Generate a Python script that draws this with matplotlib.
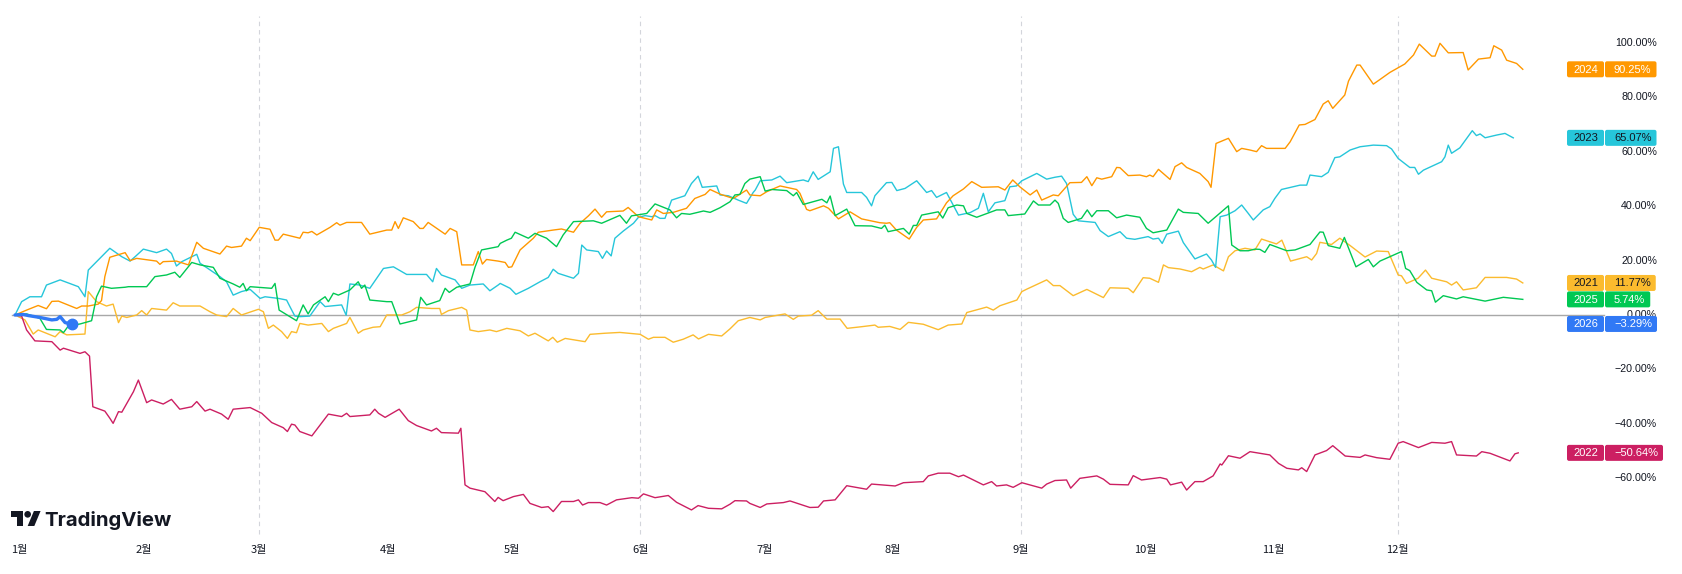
import matplotlib
matplotlib.use("Agg")
import matplotlib.pyplot as plt
from matplotlib.patches import FancyBboxPatch, Polygon, Circle
from matplotlib.transforms import IdentityTransform, blended_transform_factory

# ---------------- data (day of year, % change since Jan 1) ----------------
days_2021 = [0,2.4,4.4,5.6,9.7,10.9,12.5,16.9,17.7,19.7,22.1,23.7,25.0,25.8,27.0,29.4,30.6,31.8,33.0,36.6,38.2,39.8,44.7,47.1,48.7,51.1,52.7,54.7,58.8,60.0,61.2,62.4,64.4,65.8,66.8,68.0,68.8,70.8,74.1,75.7,76.9,80.1,80.9,82.9,84.1,86.5,88.2,89.8,93.4,95.4,97.0,100.6,102.6,103.0,104.7,107.9,109.1,109.9,111.9,114.7,116.3,118.8,122.0,124.0,125.6,128.8,129.9,131.0,132.9,137.7,138.9,142.5,146.1,151.0,153.0,154.2,157.0,159.0,161.4,163.8,165.1,167.5,170.7,172.7,174.7,177.5,180.0,181.2,186.0,188.0,189.2,192.4,194.0,196.1,199.3,201.0,204.5,207.7,208.5,211.3,213.8,215.8,219.4,223.0,225.4,228.7,229.9,234.7,236.3,237.9,242.0,243.2,244.4,249.2,250.8,252.4,255.6,258.9,262.9,264.5,268.9,270.1,272.5,274.1,276.2,277.4,278.6,281.4,284.2,286.2,287.0,289.4,291.9,293.1,294.7,297.1,299.5,301.1,304.7,306.0,308.1,312.0,313.2,314.4,315.2,318.0,320.0,322.5,326.1,328.9,331.7,334.1,334.9,336.1,338.9,340.7,342.2,345.8,347.0,348.2,349.8,353.0,355.1,360.3,362.7,364.2]
pct_2021 = [0,-1.8,-7.0,-5.5,-8.0,-6.1,-7.3,-7.0,8.6,4.9,3.3,4.0,-2.8,-0.4,-0.9,0.0,1.6,0.0,2.4,1.8,4.5,3.3,3.3,1.2,0.0,-0.6,2.4,0.0,2.1,1.2,-4.9,-3.7,-6.1,-8.6,-6.1,-6.5,-3.1,-3.7,-3.1,-6.1,-4.9,-3.1,-0.9,-6.7,-5.5,-4.5,-4.3,0.0,0.0,1.2,2.8,2.4,2.4,0.2,1.6,2.8,1.8,-5.5,-6.1,-5.5,-6.1,-4.9,-5.8,-7.7,-6.7,-9.5,-8.2,-10.0,-8.6,-9.8,-7.1,-6.7,-6.4,-7.1,-8.9,-8.2,-8.2,-10.0,-8.9,-7.3,-8.8,-7.1,-7.7,-5.1,-2.1,-0.9,-1.8,-0.9,0.4,-1.6,-0.4,-0.1,1.6,-1.5,-1.5,-4.9,-4.3,-3.7,-4.5,-4.2,-5.3,-2.7,-3.4,-5.4,-3.7,-3.3,0.9,2.9,1.8,3.4,5.5,8.6,9.5,12.9,10.8,10.8,7.1,9.4,6.4,10.0,9.8,8.2,13.7,13.5,12.0,18.4,17.4,16.9,15.9,17.5,16.9,18.4,16.2,21.4,23.6,24.5,23.9,27.9,26.1,27.5,19.8,21.4,20.2,22.6,26.7,25.9,28.2,25.5,21.3,23.5,23.3,14.7,14.4,11.6,13.5,16.5,13.5,12.2,11.0,12.2,9.2,10.0,13.8,13.8,13.2,11.77]

days_2022 = [0,1.6,2.8,4.8,8.9,10.9,11.7,15.7,16.9,18.0,18.8,21.7,22.9,23.7,25.0,25.8,28.6,29.8,31.8,33.0,35.8,37.8,39.8,42.7,43.9,45.9,47.1,49.9,51.5,52.7,56.8,59.6,62.0,64.8,65.8,66.8,67.6,68.8,71.7,75.7,78.9,80.1,80.9,85.7,86.9,87.8,89.4,92.8,95.0,97.0,100.6,101.8,103.0,107.1,107.7,108.7,109.9,113.5,115.9,116.7,117.9,120.4,122.8,124.4,127.2,128.8,130.0,132.0,134.9,136.1,137.1,138.5,141.3,142.9,145.3,149.0,150.6,151.8,154.6,157.8,159.8,163.4,165.0,167.5,170.7,172.7,173.9,176.7,177.5,180.0,181.6,185.6,187.2,192.0,194.0,195.3,198.1,200.9,205.7,206.9,212.6,214.6,219.4,220.6,223.0,225.8,227.9,229.1,233.9,235.9,237.1,239.5,241.1,243.2,248.0,249.2,251.2,254.0,255.0,257.2,261.3,262.9,264.5,268.9,270.1,272.1,276.6,278.2,279.1,281.8,283.0,285.0,287.0,289.4,291.1,291.5,293.1,295.9,298.3,303.1,305.2,307.2,310.0,310.8,312.0,314.0,316.8,318.3,321.3,324.9,326.1,328.9,332.1,334.1,335.3,339.0,342.2,345.4,347.0,348.2,353.0,354.3,356.3,361.1,362.3,363.1]
pct_2022 = [0,-0.4,-5.5,-9.5,-9.8,-12.9,-12.2,-14.1,-13.5,-15.1,-33.7,-35.3,-37.9,-39.8,-35.5,-35.7,-28.2,-23.9,-32.2,-31.2,-32.7,-31.0,-34.6,-33.7,-31.8,-35.3,-34.6,-36.4,-38.3,-34.6,-34.0,-36.1,-39.5,-41.4,-42.8,-40.1,-40.4,-42.8,-44.4,-36.4,-37.3,-36.1,-37.3,-36.7,-34.6,-36.1,-37.6,-34.6,-38.8,-40.6,-42.6,-41.6,-43.2,-43.4,-41.6,-62.4,-63.6,-64.9,-68.5,-67.0,-68.2,-66.7,-65.9,-69.2,-70.7,-70.4,-72.2,-68.5,-68.5,-67.9,-69.8,-68.9,-68.9,-69.8,-67.9,-67.1,-67.3,-65.7,-67.1,-66.3,-68.8,-71.6,-70.0,-71.0,-71.2,-69.5,-68.2,-68.3,-69.2,-70.7,-69.4,-68.9,-68.3,-70.7,-70.6,-68.3,-67.9,-62.7,-64.0,-62.1,-62.8,-61.6,-61.2,-59.1,-58.1,-58.1,-59.4,-58.8,-62.4,-61.2,-62.8,-62.4,-63.3,-61.6,-63.6,-62.1,-60.8,-60.6,-63.6,-60.0,-59.1,-60.3,-62.2,-62.4,-59.0,-60.6,-59.7,-60.3,-62.4,-61.4,-64.3,-61.2,-61.2,-59.1,-54.7,-55.1,-51.7,-52.6,-50.2,-51.4,-54.5,-56.3,-56.9,-56.1,-57.5,-51.4,-49.8,-48.0,-51.8,-52.3,-51.4,-52.4,-53.0,-47.1,-46.5,-48.7,-46.8,-47.1,-46.5,-51.4,-51.8,-50.2,-50.8,-53.6,-51.0,-50.64]

days_2023 = [0,1.6,3.6,6.4,7.6,10.9,15.3,16.9,17.7,20.5,22.9,25.8,27.8,29.0,31.0,34.2,36.6,37.8,39.0,40.3,42.7,43.9,44.7,46.3,49.5,51.1,52.7,54.7,56.8,59.2,60.4,63.6,65.6,66.4,67.6,68.8,71.2,73.7,74.9,78.9,80.0,80.9,83.3,84.5,85.7,89.0,91.4,94.6,99.4,100.9,101.8,103.0,106.3,107.9,109.9,113.1,114.7,116.7,117.2,119.6,121.0,124.0,126.8,128.8,130.0,131.2,134.9,136.1,136.9,138.1,140.9,141.9,142.9,144.0,144.9,146.9,149.4,150.6,152.2,153.8,154.6,155.8,157.0,158.6,161.8,163.4,165.0,166.0,169.5,170.3,172.3,174.7,176.7,178.3,178.8,180.0,182.8,184.8,186.4,190.4,191.6,192.8,194.0,196.9,197.7,198.9,200.1,200.9,204.5,205.7,206.9,207.7,210.5,211.8,213.0,215.0,217.8,220.2,221.4,222.6,225.0,227.9,230.7,232.7,233.9,235.1,236.7,237.9,239.1,240.3,241.9,243.2,246.8,249.2,251.2,252.8,254.0,255.6,256.8,260.9,262.1,264.1,266.9,268.5,270.5,273.7,274.9,276.2,277.1,278.2,281.0,282.2,285.0,287.8,289.0,290.0,291.1,292.7,294.7,296.3,297.9,299.1,301.5,303.1,304.3,305.9,310.4,312.0,312.8,315.6,317.2,318.8,320.0,322.5,324.9,328.1,331.3,332.5,334.1,336.9,338.1,339.0,340.2,344.6,345.4,346.2,347.0,349.0,352.0,353.0,353.9,355.1,357.9,359.9,361.9]
pct_2023 = [0,4.9,6.7,6.7,11.0,12.9,10.4,6.7,16.5,20.8,24.5,21.4,19.8,21.4,24.2,22.9,24.2,22.6,18.0,19.6,21.4,22.3,19.0,17.4,14.1,12.2,7.3,8.6,9.4,6.1,6.7,6.1,5.5,3.1,-0.4,-0.6,-0.4,4.9,3.1,3.7,-0.1,11.4,11.0,10.4,9.8,17.1,17.7,14.9,14.9,12.2,17.1,14.7,12.9,9.8,11.0,11.4,8.9,11.0,11.6,9.8,7.6,9.8,12.2,13.8,16.8,15.3,13.5,15.3,25.7,23.9,23.3,20.8,23.5,21.7,28.2,30.8,33.7,35.9,36.5,36.1,36.5,35.5,35.5,42.2,43.8,48.3,51.0,46.9,47.4,44.1,43.8,42.2,41.0,45.0,45.9,49.3,49.6,51.0,48.6,49.6,49.0,52.6,49.8,52.6,61.2,61.8,48.1,45.0,45.0,43.2,40.1,43.8,48.6,48.7,45.7,46.5,49.3,45.0,45.7,43.2,45.0,36.7,37.6,39.2,44.7,37.9,41.2,41.6,42.0,47.1,47.4,49.3,52.0,49.9,50.6,51.0,48.3,37.0,34.6,34.0,31.0,28.8,30.6,28.2,27.8,28.8,27.9,28.2,26.3,29.7,30.8,26.6,20.6,22.4,20.2,17.5,36.1,36.7,38.3,40.4,37.3,34.9,38.6,39.8,42.8,46.1,47.7,47.7,51.4,50.8,52.4,57.8,58.1,60.6,61.8,62.4,62.2,61.0,57.5,54.2,54.2,51.7,53.2,56.3,58.1,62.4,59.4,61.4,67.7,65.9,66.5,65.1,66.1,66.7,65.07]

days_2024 = [0,2.8,5.6,7.6,8.9,10.5,14.9,16.1,17.7,20.1,20.9,21.7,22.9,26.6,27.8,29.4,34.2,35.0,35.8,39.0,41.9,43.9,45.5,49.5,51.1,52.3,54.7,55.9,56.8,59.0,61.6,62.8,63.6,64.8,68.8,69.6,70.8,71.7,72.9,76.1,77.7,78.5,80.1,83.7,85.7,89.8,91.0,91.8,92.6,93.8,96.2,97.8,98.6,99.8,103.9,105.1,106.7,107.9,110.7,111.9,112.9,113.9,116.7,118.4,119.2,120.0,122.0,125.2,126.4,130.0,132.0,134.9,136.5,138.5,140.1,141.7,142.9,146.9,148.1,150.6,153.8,155.0,156.6,159.0,162.2,164.2,166.7,167.9,170.3,173.5,176.7,177.5,180.0,181.6,184.8,188.8,189.6,191.2,192.0,195.3,196.5,198.9,201.7,204.5,208.9,210.5,211.3,212.9,216.0,217.8,219.4,222.6,225.0,226.6,229.1,231.1,233.5,237.5,239.1,241.0,242.7,245.2,246.8,248.0,250.8,252.0,254.8,257.6,258.9,260.1,261.3,262.5,264.9,266.1,266.9,268.9,271.7,273.3,274.1,274.9,276.2,279.0,280.2,281.8,283.0,286.2,288.2,288.9,290.1,293.1,295.1,296.3,298.3,299.9,301.1,302.3,306.8,308.0,310.2,311.6,314.0,316.0,317.2,318.3,321.2,322.1,324.1,324.9,328.1,329.7,332.1,335.7,337.8,339.2,342.2,343.0,344.2,346.2,349.8,351.0,353.5,356.3,357.2,359.1,360.3,362.7,364.2]
pct_2024 = [0,1.8,3.5,2.3,5.0,5.1,2.4,3.3,3.3,4.0,5.3,14.1,21.2,22.9,20.0,20.8,19.8,18.6,19.6,19.8,18.4,26.7,24.5,22.4,25.3,24.8,25.3,28.2,27.3,32.2,31.5,27.5,27.5,29.7,28.2,30.4,30.2,30.7,29.4,32.2,33.9,33.0,34.0,34.0,29.7,31.2,31.2,34.3,31.8,35.7,34.3,31.8,31.8,34.0,29.7,31.8,30.6,18.4,18.4,23.3,18.7,20.4,19.8,19.3,17.5,17.7,23.9,28.2,30.4,31.2,31.6,30.4,33.7,36.4,38.9,35.9,37.9,38.2,39.5,36.1,34.9,38.6,37.3,37.7,39.2,42.8,44.3,46.1,44.4,42.8,45.9,44.1,43.8,45.3,47.4,46.1,44.7,38.8,38.3,40.1,39.2,35.3,37.9,35.3,33.9,33.7,33.9,31.2,27.9,32.2,34.9,35.3,41.2,43.8,46.3,49.0,46.9,47.1,45.9,49.6,47.1,44.1,45.9,42.2,44.1,43.8,48.6,48.7,50.8,47.5,50.4,49.9,50.8,54.2,54.1,51.2,51.4,50.8,51.4,50.8,53.5,49.8,54.5,55.9,54.2,52.0,49.0,46.9,63.0,64.9,60.0,61.2,60.6,60.0,62.2,61.2,61.2,63.6,69.8,70.0,71.8,77.5,78.7,75.9,80.8,85.9,91.8,91.8,84.8,86.5,89.1,92.2,95.5,99.5,95.1,95.1,99.8,96.3,96.4,90.0,94.0,94.5,98.9,97.3,93.6,92.4,90.25]

days_2025 = [0,2.8,6.0,7.6,10.9,11.7,12.9,15.7,18.5,19.7,20.9,23.3,26.6,27.4,31.8,33.8,36.6,38.6,39.8,42.7,44.7,47.9,49.5,52.7,54.3,55.1,55.9,56.8,62.0,62.8,63.8,68.0,69.6,70.8,72.1,74.9,75.7,76.9,78.1,80.9,82.9,83.7,84.5,85.7,89.8,91.0,93.0,97.0,98.0,99.4,102.6,103.9,104.9,106.7,109.9,111.1,112.7,116.7,117.2,118.8,119.9,120.8,124.0,125.6,128.4,130.8,132.4,134.9,139.7,141.7,146.1,147.7,148.9,152.6,154.6,158.2,159.8,161.0,163.0,166.3,167.9,170.3,172.7,173.9,175.1,176.3,177.5,180.0,181.2,182.8,186.4,188.0,188.8,190.4,194.9,196.1,196.9,198.1,200.9,202.9,206.9,209.3,210.1,210.9,214.6,216.0,217.0,217.8,219.0,223.0,224.1,225.4,227.5,229.1,229.9,232.3,237.1,239.1,239.9,243.9,246.0,247.2,250.0,251.2,252.0,253.2,254.4,257.6,259.0,260.1,261.3,264.1,266.1,268.5,271.7,273.3,274.9,278.2,281.0,282.2,285.8,288.2,293.1,293.9,295.9,297.9,299.5,300.7,301.9,303.1,307.2,309.2,312.8,315.2,316.0,317.2,320.0,321.1,323.9,326.9,328.1,329.7,334.9,335.9,336.9,338.6,341.0,342.2,343.1,345.0,348.2,349.8,351.8,355.1,359.5,364.2]
pct_2025 = [0,0.4,-1.2,-5.3,-5.5,-6.5,-4.0,-3.3,-2.1,6.7,10.6,9.8,10.2,10.4,10.4,14.1,14.7,15.7,13.8,19.3,18.4,17.5,13.5,11.4,10.2,11.6,8.9,10.4,9.8,11.6,1.8,-2.1,3.7,0.4,3.7,6.7,4.9,8.0,7.3,9.2,12.2,9.8,11.0,5.5,4.9,4.9,-3.3,-1.8,6.5,3.7,5.3,9.8,8.3,10.2,11.4,17.5,23.9,25.1,26.3,27.5,28.2,30.4,28.2,30.0,28.2,25.1,29.4,34.3,34.6,33.7,36.6,33.7,36.4,37.3,40.8,38.6,35.7,37.3,37.0,38.2,37.7,39.4,41.6,44.1,44.3,48.3,49.9,50.8,45.5,46.1,45.7,43.8,45.0,40.6,42.5,41.2,43.7,36.5,38.9,32.8,32.7,31.8,33.0,30.6,31.8,29.7,32.9,32.9,36.7,37.9,35.6,39.4,40.4,40.1,37.3,35.9,38.6,38.6,36.5,37.1,41.9,40.4,40.4,42.2,41.0,35.5,34.0,35.5,38.6,36.1,38.3,38.3,35.7,36.7,35.9,31.8,30.2,31.2,38.9,37.7,37.3,33.7,40.1,25.7,23.6,23.6,24.2,24.1,23.0,25.9,23.6,23.9,25.9,30.5,30.4,25.5,24.5,28.5,17.7,20.4,17.7,19.8,23.3,17.1,16.3,12.0,9.2,8.9,4.7,7.1,5.9,6.7,6.1,5.1,6.5,5.74]

days_2026 = [0,2.0,3.2,6.0,8.9,10.1,10.9,12.1,13.7]
pct_2026 = [0,0.2,-0.2,-0.9,-1.8,-1.6,-0.6,-2.8,-3.29]

years = ["2021", "2022", "2023", "2024", "2025", "2026"]
series_days = [days_2021, days_2022, days_2023, days_2024, days_2025, days_2026]
series_pct = [pct_2021, pct_2022, pct_2023, pct_2024, pct_2025, pct_2026]
colors = ["#FBBB2E", "#CC1F62", "#26C6DA", "#FF9800", "#00C853", "#3179F5"]
label_text_colors = ["#131722", "#FFFFFF", "#131722", "#FFFFFF", "#FFFFFF", "#FFFFFF"]

month_labels = ["1월", "2월", "3월", "4월", "5월", "6월", "7월", "8월", "9월", "10월", "11월", "12월"]
month_start_days = [0, 31, 59, 90, 120, 151, 181, 212, 243, 273, 304, 334]
grid_months = [3, 6, 9, 12]
y_ticks = [100, 80, 60, 40, 20, 0, -20, -40, -60]

# ---------------- layout ----------------
W, H, DPI = 1682, 574, 100
X0, XS = 15.0, 4.14      # pixel of day 0, pixels per day
Y0, YS = 315.0, 2.7225   # pixel of 0 %, pixels per percent

fig = plt.figure(figsize=(W / DPI, H / DPI), dpi=DPI)
fig.patch.set_facecolor("white")
ax = fig.add_axes([0, 0, 1, 1])
ax.set_axis_off()
ax.set_xlim(-X0 / XS, (W - X0) / XS)
ax.set_ylim((Y0 - H) / YS, Y0 / YS)

ident = IdentityTransform()

def dy(v):
    """display y (from bottom) of a percent value"""
    return H - (Y0 - YS * v)

# grid (quarterly dashed verticals)
for m in grid_months:
    ax.axvline(month_start_days[m - 1], ymin=1 - 534 / H, ymax=1 - 16 / H,
               color="#D3D5DB", lw=0.8, ls=(0, (4, 3.5)), zorder=1)

# zero line
ax.axhline(0, xmin=12 / W, xmax=1604 / W, color="#A8A8A8", lw=1.0, zorder=2)

# series
for yr, d, p, c in zip(years, series_days, series_pct, colors):
    if yr == "2026":
        ax.plot(d, p, color=c, lw=2.4, zorder=6, solid_capstyle="round", solid_joinstyle="round")
        ax.plot(d[-1], p[-1], "o", color=c, ms=7.5, zorder=7)
    else:
        ax.plot(d, p, color=c, lw=1.0, zorder=3)

# right axis tick labels
tr_fd = blended_transform_factory(fig.transFigure, ax.transData)
for v in y_ticks:
    s = f"{v:.2f}%".replace("-", "\u2212")
    ax.text(1657 / W, v, s, transform=tr_fd, ha="right", va="center",
            fontsize=7.7, family="Liberation Sans", color="#131722", zorder=8)

# month labels
tr_df = blended_transform_factory(ax.transData, fig.transFigure)
for i, (lab, d) in enumerate(zip(month_labels, month_start_days)):
    if i == 0:
        ax.text(-X0 / XS + 11.5 / XS, 1 - 550 / H, lab, transform=tr_df, ha="left", va="center",
                fontsize=8, family=["Noto Sans CJK KR", "DejaVu Sans"], color="#131722")
    else:
        ax.text(d, 1 - 550 / H, lab, transform=tr_df, ha="center", va="center",
                fontsize=8, family=["Noto Sans CJK KR", "DejaVu Sans"], color="#131722")

# last-value labels
fig.canvas.draw()
renderer = fig.canvas.get_renderer()
BOX_H = 16.0
for yr, p, c, tc in zip(years, series_pct, colors, label_text_colors):
    v = p[-1]
    yc = dy(v)
    # year box
    ax.add_patch(FancyBboxPatch((1567, yc - BOX_H / 2), 37, BOX_H,
                                boxstyle="round,pad=0,rounding_size=2", transform=ident,
                                facecolor=c, edgecolor="none", zorder=10))
    ax.text(1585.5, yc - 0.3, yr, transform=ident, ha="center", va="center",
            fontsize=8, family="Liberation Sans", color=tc, zorder=11)
    s = f"{v:.2f}%".replace("-", "\u2212")
    t = ax.text(1614, yc - 0.3, s, transform=ident, ha="left", va="center",
                fontsize=8, family="Liberation Sans", color=tc, zorder=11)
    bb = t.get_window_extent(renderer)
    ax.add_patch(FancyBboxPatch((1605, yc - BOX_H / 2), bb.x1 + 5 - 1605, BOX_H,
                                boxstyle="round,pad=0,rounding_size=2", transform=ident,
                                facecolor=c, edgecolor="none", zorder=10))

# TradingView logo
s = 0.833
ox, oy = 11, 511
def lp(x, y):
    return (ox + x * s, H - (oy + (y - 4) * s))
ax.add_patch(Polygon([lp(14, 22), lp(7, 22), lp(7, 11), lp(0, 11), lp(0, 4), lp(14, 4)],
                     closed=True, transform=ident, facecolor="#131722", edgecolor="none", zorder=9))
ax.add_patch(Polygon([lp(28, 22), lp(20, 22), lp(27.5, 4), lp(35.5, 4)],
                     closed=True, transform=ident, facecolor="#131722", edgecolor="none", zorder=9))
cx, cy = lp(20, 8)
ax.add_patch(Circle((cx, cy), 4 * s, transform=ident, facecolor="#131722", edgecolor="none", zorder=9))
logo = ax.text(44, H - 526, "TradingView", transform=ident, ha="left", va="baseline",
               fontsize=14, family="Inter", fontweight="bold", color="#131722", zorder=9)
bb = logo.get_window_extent(renderer)
logo.set_fontsize(14 * 128 / bb.width)

fig.savefig("out.png", dpi=DPI, facecolor="white")
